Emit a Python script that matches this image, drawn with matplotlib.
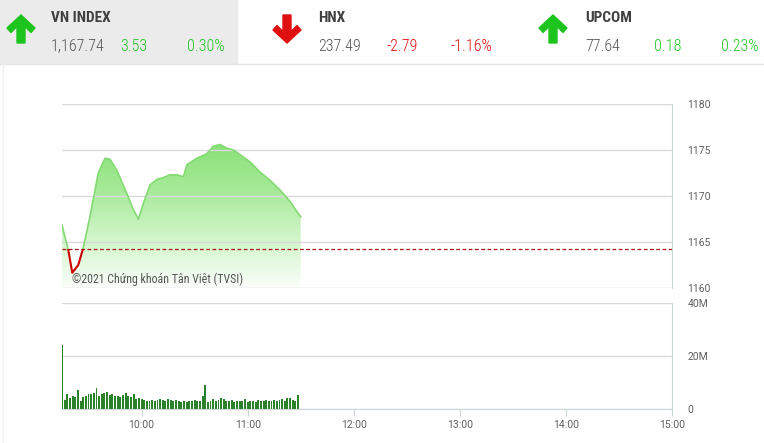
import numpy as np
import matplotlib.pyplot as plt
from matplotlib.patches import Polygon, Rectangle
from matplotlib.colors import LinearSegmentedColormap

# ==========================================
# Dados (minutos desde 00:00)
tempo = [555, 558.6, 560.8, 564.2, 567, 570.8, 575.5, 579.3, 582.2, 586, 591.6, 595.4,
         598.2, 601, 604.8, 608.6, 612.3, 616.1, 619.9, 623.7, 625.6, 631.2, 636.9,
         640.6, 644.4, 648.2, 652, 655.7, 661.4, 667, 672.7, 678.3, 684, 687.8, 690]
indice = [1166.85, 1164.1, 1161.66, 1162.5, 1164.35, 1167.75, 1172.5, 1174.1, 1174.0,
          1172.8, 1170.3, 1168.5, 1167.5, 1169.2, 1171.2, 1171.8, 1172.0, 1172.3, 1172.3,
          1172.1, 1173.4, 1174.1, 1174.6, 1175.4, 1175.6, 1175.2, 1175.0, 1174.5, 1173.7,
          1172.6, 1171.7, 1170.65, 1169.4, 1168.3, 1167.74]
referencia = 1164.21

# volume (milhões) a cada 1,5 min a partir de 9:15
volume = [24, 3.5, 5.5, 4.2, 5.0, 4.5, 7.2, 3.0, 4.5, 4.8, 5.5, 5.8, 6.0, 8.0, 5.0,
          5.5, 6.2, 6.4, 5.2, 5.6, 4.8, 5.0, 4.6, 5.2, 6.0, 5.0, 4.5, 5.7, 3.8, 4.0,
          3.6, 3.4, 3.2, 3.0, 3.4, 3.1, 3.5, 3.7, 3.3, 3.0, 3.6, 3.4, 3.2, 3.5, 3.1,
          2.8, 3.0, 2.7, 2.9, 3.2, 3.4, 3.0, 3.2, 4.9, 9.0, 2.8, 3.2, 3.6, 3.0, 3.4,
          4.2, 3.8, 3.2, 2.9, 3.4, 2.8, 3.0, 3.2, 2.9, 3.6, 2.7, 3.0, 3.2, 2.8, 3.4,
          3.2, 3.0, 3.5, 3.2, 2.9, 3.3, 3.0, 3.4, 3.6, 3.2, 4.0, 4.2, 3.4, 3.0, 5.3]
tempo_vol = [555 + 1.5 * i for i in range(len(volume))]

horas = [600, 660, 720, 780, 840, 900]
rotulos_horas = ['10:00', '11:00', '12:00', '13:00', '14:00', '15:00']

indices_nome = ['VN INDEX', 'HNX', 'UPCOM']
indices_valor = ['1,167.74', '237.49', '77.64']
indices_var = ['3.53', '-2.79', '0.18']
indices_pct = ['0.30%', '-1.16%', '0.23%']
indices_sobe = [True, False, True]

# ==========================================
W, H = 764, 443
fig = plt.figure(figsize=(W / 100, H / 100), dpi=100)
fig.patch.set_facecolor('white')

condensada = ['Roboto Condensed', 'DejaVu Sans Condensed', 'Roboto', 'DejaVu Sans']
borda = '#ccd6db'
grade = '#d9d9d9'
cinza_txt = '#606060'

def px(x0, y0, x1, y1):
    return [x0 / W, 1 - y1 / H, (x1 - x0) / W, (y1 - y0) / H]

# Gráfico do índice
ax = fig.add_axes(px(62, 104, 672, 288))
ax.set_xlim(555, 900)
ax.set_ylim(1160, 1180)
for s in ax.spines.values():
    s.set_visible(False)
ax.spines['right'].set_visible(True)
ax.spines['right'].set_color(borda)
ax.set_yticks([1160, 1165, 1170, 1175, 1180])
ax.yaxis.tick_right()
ax.tick_params(axis='y', length=0, pad=11, labelsize=7.5, labelcolor=cinza_txt)
ax.set_xticks([])
ax.set_axisbelow(False)
ax.grid(True, axis='y', color=grade, linewidth=1)
for lab in ax.get_yticklabels():
    lab.set_fontfamily('Roboto')
    lab.set_horizontalalignment('left')

# preenchimento em degradê
cmap = LinearSegmentedColormap.from_list('verde', ['#fafefa', '#d2f5ca', '#a6ea98', '#86df74'])
grad = np.linspace(0, 1, 256).reshape(-1, 1)
img = ax.imshow(grad, extent=[555, 900, 1160, 1176], origin='lower', aspect='auto',
                cmap=cmap, zorder=1)
area = ax.fill_between(tempo, indice, 1160, color='none')
img.set_clip_path(area.get_paths()[0], transform=ax.transData)

linha_verde, = ax.plot(tempo, indice, color='#84da72', linewidth=1.2, zorder=3)
linha_verde.set_clip_path(Rectangle((555, referencia), 400, 30, transform=ax.transData))
linha_verm, = ax.plot(tempo, indice, color='#cc0000', linewidth=1.5, zorder=3)
linha_verm.set_clip_path(Rectangle((555, 1150), 400, referencia - 1150, transform=ax.transData))
ax.axhline(referencia, color='#a31515', linestyle=(0, (3, 2)), linewidth=0.9, zorder=4)

ax.text(0.017, 0.048, '©2021 Chứng khoán Tân Việt (TVSI)', transform=ax.transAxes,
        fontsize=8.6, color='#555555', family=condensada, va='center', zorder=5)

# Gráfico de volume
axv = fig.add_axes(px(62, 303, 672, 409))
axv.set_xlim(555, 900)
axv.set_ylim(0, 40)
axv.bar(tempo_vol, volume, width=1.1, color='#2a822a', zorder=3)
for s in axv.spines.values():
    s.set_visible(False)
axv.spines['right'].set_visible(True)
axv.spines['right'].set_color(borda)
axv.spines['bottom'].set_visible(True)
axv.spines['bottom'].set_color(borda)
axv.set_yticks([0, 20, 40])
axv.set_yticklabels(['0', '20M', '40M'])
axv.yaxis.tick_right()
axv.tick_params(axis='y', length=0, pad=11, labelsize=7.5, labelcolor=cinza_txt)
axv.grid(True, axis='y', color=grade, linewidth=1)
axv.set_xticks(horas)
axv.set_xticklabels(rotulos_horas)
axv.tick_params(axis='x', length=5, color=borda, labelsize=7.5, labelcolor=cinza_txt, pad=3)
for lab in axv.get_xticklabels() + axv.get_yticklabels():
    lab.set_fontfamily('Roboto')
for lab in axv.get_yticklabels():
    lab.set_horizontalalignment('left')

# ==========================================
# Cabeçalho
hd = fig.add_axes([0, 0, 1, 1], zorder=-1)
hd.set_xlim(0, W)
hd.set_ylim(H, 0)
hd.axis('off')
hd.add_patch(Rectangle((0, 0), 237, 63, color='#ebebeb'))
hd.plot([0, W], [64, 64], color='#e4e4e4', linewidth=1)
hd.plot([3, 3], [64, H], color='#f0f0f0', linewidth=1)

fig_h = fig.add_axes([0, 0, 1, 1], zorder=10)
fig_h.set_xlim(0, W)
fig_h.set_ylim(H, 0)
fig_h.axis('off')

seta = np.array([(0, 0), (14, 13), (10, 17.5), (4, 11.5), (4, 28), (-4, 28),
                 (-4, 11.5), (-10, 17.5), (-14, 13)])
pos_x = [51, 318, 585]
seta_x = [21, 287, 553]
for i in range(3):
    if indices_sobe[i]:
        pts = seta + [seta_x[i], 15]
        cor = '#1ec41e'
    else:
        pts = seta * [1, -1] + [seta_x[i], 43]
        cor = '#e01010'
    fig_h.add_patch(Polygon(pts, closed=True, color=cor))
    x0 = pos_x[i]
    fig_h.text(x0, 18, indices_nome[i], fontsize=11, fontweight='bold', color='#404040',
               family=condensada, va='center', ha='left')
    fig_h.text(x0, 46, indices_valor[i], fontsize=11.5, fontweight='light', color='#555555',
               family=condensada, va='center', ha='left')
    fig_h.text(x0 + 69, 46, indices_var[i], fontsize=11.5, fontweight='light', color=cor,
               family=condensada, va='center', ha='left')
    fig_h.text(x0 + 174, 46, indices_pct[i], fontsize=11.5, fontweight='light', color=cor,
               family=condensada, va='center', ha='right')

plt.savefig('out.png', dpi=100, facecolor='white')
